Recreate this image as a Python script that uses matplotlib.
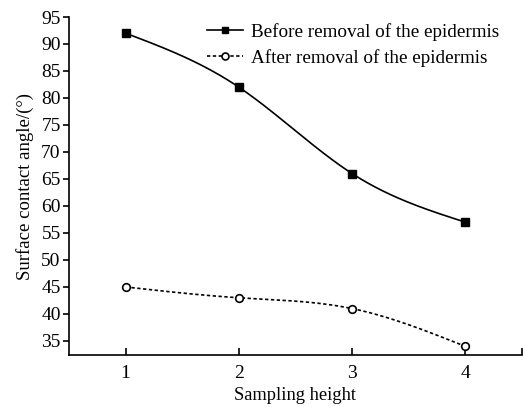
import numpy as np
import matplotlib
matplotlib.use("Agg")
import matplotlib.pyplot as plt

plt.rcParams['font.family'] = ['Liberation Serif', 'DejaVu Serif']

heights = [1, 2, 3, 4]
before = [92, 82, 66, 57]
after = [45, 43, 41, 34]
y_ticks = [35, 40, 45, 50, 55, 60, 65, 70, 75, 80, 85, 90, 95]


def smooth(x, y, n=200):
    # natural cubic spline through the points, only for drawing the connector
    x = np.asarray(x, float)
    y = np.asarray(y, float)
    k = len(x)
    h = np.diff(x)
    A = np.zeros((k, k))
    b = np.zeros(k)
    A[0, 0] = A[-1, -1] = 1
    for i in range(1, k - 1):
        A[i, i - 1] = h[i - 1]
        A[i, i] = 2 * (h[i - 1] + h[i])
        A[i, i + 1] = h[i]
        b[i] = 6 * ((y[i + 1] - y[i]) / h[i] - (y[i] - y[i - 1]) / h[i - 1])
    m = np.linalg.solve(A, b)
    xs = np.linspace(x[0], x[-1], n)
    idx = np.clip(np.searchsorted(x, xs) - 1, 0, k - 2)
    t0 = x[idx]
    t1 = x[idx + 1]
    hh = t1 - t0
    ys = (m[idx] * (t1 - xs) ** 3 / (6 * hh) + m[idx + 1] * (xs - t0) ** 3 / (6 * hh)
          + (y[idx] / hh - m[idx] * hh / 6) * (t1 - xs)
          + (y[idx + 1] / hh - m[idx + 1] * hh / 6) * (xs - t0))
    return xs, ys


fig = plt.figure(figsize=(5.23, 4.07), dpi=100)
ax = fig.add_axes([69 / 523, 1 - 355 / 407, (522 - 69) / 523, (355 - 17) / 407])

dash = (0, (2, 1.5))
xs, ys = smooth(heights, before)
ax.plot(xs, ys, color='black', lw=1.2)
xs, ys = smooth(heights, after)
ax.plot(xs, ys, color='black', lw=1.2, ls=dash)
ax.plot(heights, before, ls='none', marker='s', ms=5.5, color='black')
ax.plot(heights, after, ls='none', marker='o', ms=5.5, mfc='white', mec='black', mew=1.2)

# legend handles
ax.plot([], [], color='black', lw=1.2, marker='s', ms=5, label='Before removal of the epidermis')
ax.plot([], [], color='black', lw=1.2, ls=dash, marker='o', ms=5, mfc='white',
        mec='black', mew=1.2, label='After removal of the epidermis')
handles, labels = ax.get_legend_handles_labels()
ax.legend(handles[-2:], labels[-2:], loc='upper left', bbox_to_anchor=(0.305, 0.982),
          frameon=False, fontsize=13.8, handlelength=1.85, handletextpad=0.42,
          labelspacing=0.4, borderaxespad=0, borderpad=0)

ax.set_xlim(0.5, 4.5)
ax.set_ylim(32.4, 95)
ax.set_xticks(heights)
ax.set_xticks([4.5], minor=True)
ax.set_yticks(y_ticks)
ax.tick_params(axis='x', direction='in', length=5, width=1.2, labelsize=14, pad=7)
ax.tick_params(axis='x', which='minor', direction='in', length=5, width=1.2)
ax.tick_params(axis='y', direction='out', length=4, width=1.2, labelsize=14, pad=2)
for s in ['top', 'right']:
    ax.spines[s].set_visible(False)
for s in ['left', 'bottom']:
    ax.spines[s].set_linewidth(1.2)

ax.set_xlabel('Sampling height', fontsize=13.3, labelpad=4)
ax.set_ylabel('Surface contact angle/(°)', fontsize=13.5, labelpad=5)

fig.savefig('out.png', dpi=100)
